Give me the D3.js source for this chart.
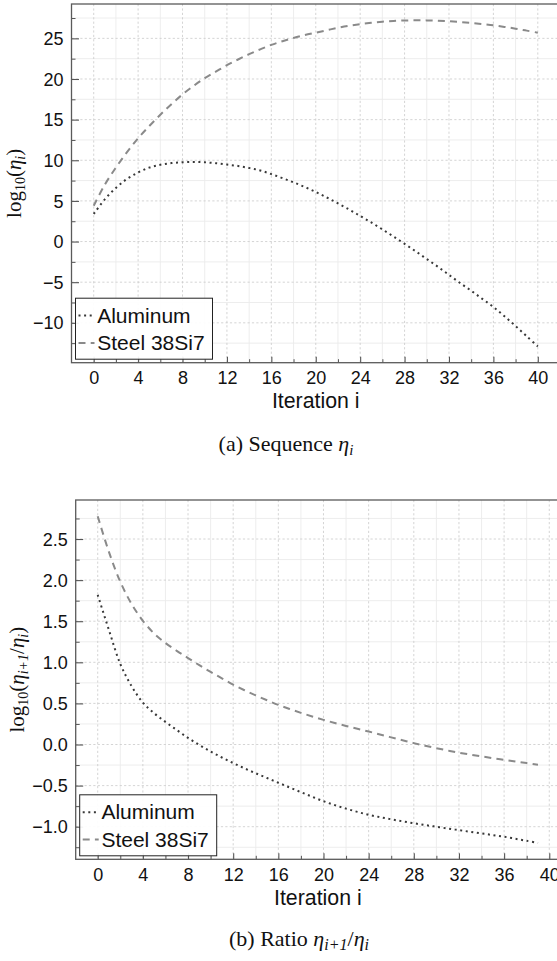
<!DOCTYPE html>
<html>
<head>
<meta charset="utf-8">
<script src="https://cdn.jsdelivr.net/npm/d3@7"></script>
<style>
  html, body { margin: 0; padding: 0; background: #fff; }
  svg { display: block; }
</style>
</head>
<body>
<svg id="chart" width="557" height="961"></svg>
<script>
// ---------------- DATA ----------------
const seriesNames = ["Aluminum", "Steel 38Si7"];

// (a) sequence log10(eta_i), i = 0..40
const etaIterations = [0,1,2,3,4,5,6,7,8,9,10,11,12,13,14,15,16,17,18,19,20,
                       21,22,23,24,25,26,27,28,29,30,31,32,33,34,35,36,37,38,39,40];
const etaAluminum = [3.4, 5.2, 6.6, 7.7, 8.5, 9.1, 9.45, 9.65, 9.76, 9.8, 9.75,
                     9.64, 9.47, 9.3, 9.05, 8.75, 8.3, 7.8, 7.28, 6.72, 6.1,
                     5.42, 4.7, 3.95, 3.15, 2.35, 1.5, 0.62, -0.28, -1.2, -2.15,
                     -3.1, -4.1, -5.1, -6.05, -7.05, -8.05, -9.2, -10.4, -11.65, -12.9];
const etaSteel = [4.4, 7.0, 9.1, 11.0, 12.7, 14.2, 15.6, 16.9, 18.1, 19.15, 20.1,
                  20.9, 21.7, 22.4, 23.05, 23.65, 24.2, 24.65, 25.05, 25.4, 25.7,
                  26.0, 26.3, 26.55, 26.75, 26.92, 27.05, 27.14, 27.2, 27.22, 27.21,
                  27.17, 27.1, 27.01, 26.89, 26.75, 26.6, 26.41, 26.19, 25.95, 25.7];

// (b) ratio log10(eta_{i+1}/eta_i), i = 0..39
const ratioIterations = [0,1,2,3,4,5,6,7,8,9,10,11,12,13,14,15,16,17,18,19,
                         20,21,22,23,24,25,26,27,28,29,30,31,32,33,34,35,36,37,38,39];
const ratioAluminum = [1.82, 1.39, 0.98, 0.71, 0.51, 0.38, 0.275, 0.177, 0.08, -0.005,
                       -0.085, -0.158, -0.226, -0.29, -0.35, -0.408, -0.465, -0.523, -0.58, -0.636,
                       -0.69, -0.737, -0.78, -0.82, -0.855, -0.884, -0.91, -0.935, -0.958, -0.98,
                       -1.001, -1.022, -1.042, -1.062, -1.082, -1.102, -1.122, -1.147, -1.172, -1.198];
const ratioSteel = [2.776, 2.34, 1.98, 1.71, 1.505, 1.35, 1.235, 1.14, 1.052, 0.965,
                    0.883, 0.805, 0.728, 0.66, 0.597, 0.538, 0.482, 0.432, 0.385, 0.341,
                    0.3, 0.262, 0.226, 0.191, 0.158, 0.122, 0.087, 0.052, 0.017, -0.015,
                    -0.045, -0.073, -0.1, -0.123, -0.145, -0.166, -0.186, -0.206, -0.226, -0.246];

// tick labels
const xTickValues = [0, 4, 8, 12, 16, 20, 24, 28, 32, 36, 40];
const xMinorValues = [-2, 2, 6, 10, 14, 18, 22, 26, 30, 34, 38, 42];
const yTicksTop = [-10, -5, 0, 5, 10, 15, 20, 25];
const yMinorTop = [-12.5, -7.5, -2.5, 2.5, 7.5, 12.5, 17.5, 22.5, 27.5];
const yTicksBottom = [-1.0, -0.5, 0.0, 0.5, 1.0, 1.5, 2.0, 2.5];
const yMinorBottom = [-1.25, -0.75, -0.25, 0.25, 0.75, 1.25, 1.75, 2.25, 2.75];

// ---------------- STYLE ----------------
const SANS = "'Liberation Sans', Arial, Helvetica, sans-serif";
const SERIF = "'Liberation Serif', 'Times New Roman', serif";
const styles = [
  { color: "#383838", width: 2.0, dash: "2,3.6" },   // Aluminum: dotted
  { color: "#8a8a8a", width: 2.0, dash: "7,5.2" }    // Steel: dashed
];

const svg = d3.select("#chart");

function withMargin(ext) {
  const m = (ext[1] - ext[0]) * 0.05;
  return [ext[0] - m, ext[1] + m];
}

function drawPanel(cfg) {
  const { left, right, top, bottom } = cfg.box;
  const xs = cfg.xValues;
  const x = d3.scaleLinear().domain(withMargin(d3.extent(xs))).range([left, right]);
  const allY = cfg.series.flat();
  const y = d3.scaleLinear().domain(withMargin(d3.extent(allY))).range([bottom, top]);

  const g = svg.append("g");

  // grid: minor (solid, very light), major (dashed)
  const grid = g.append("g");
  grid.selectAll(".gxm").data(xMinorValues.filter(v => x(v) >= left && x(v) <= right))
    .join("line").attr("x1", d => x(d)).attr("x2", d => x(d))
    .attr("y1", top).attr("y2", bottom)
    .attr("stroke", "#ebebeb").attr("stroke-width", 0.9);
  grid.selectAll(".gym").data(cfg.yMinor.filter(v => y(v) >= top && y(v) <= bottom))
    .join("line").attr("x1", left).attr("x2", right)
    .attr("y1", d => y(d)).attr("y2", d => y(d))
    .attr("stroke", "#ebebeb").attr("stroke-width", 0.9);
  grid.selectAll(".gx").data(xTickValues)
    .join("line").attr("x1", d => x(d)).attr("x2", d => x(d))
    .attr("y1", top).attr("y2", bottom)
    .attr("stroke", "#c9c9c9").attr("stroke-width", 0.8).attr("stroke-dasharray", "2.2,2.2");
  grid.selectAll(".gy").data(cfg.yTicks)
    .join("line").attr("x1", left).attr("x2", right)
    .attr("y1", d => y(d)).attr("y2", d => y(d))
    .attr("stroke", "#c9c9c9").attr("stroke-width", 0.8).attr("stroke-dasharray", "2.2,2.2");

  // data lines
  const line = d3.line().x((d, i) => x(xs[i])).y(d => y(d)).curve(d3.curveCatmullRom.alpha(0.5));
  cfg.series.forEach((vals, k) => {
    g.append("path").datum(vals)
      .attr("d", line)
      .attr("fill", "none")
      .attr("stroke", styles[k].color)
      .attr("stroke-width", styles[k].width)
      .attr("stroke-dasharray", styles[k].dash)
      .attr("stroke-linecap", "butt");
  });

  // axes (ticks pointing inward)
  const minus = s => s.replace("-", "\u2212");
  const xAxis = d3.axisBottom(x).tickValues(xTickValues).tickSizeInner(-6).tickSizeOuter(0)
    .tickPadding(0).tickFormat(d3.format("d"));
  const gx = g.append("g").attr("transform", `translate(0,${bottom})`).call(xAxis);
  gx.select(".domain").remove();
  gx.selectAll(".tick line").attr("stroke", "#555").attr("stroke-width", 1.1);
  gx.selectAll(".tick text").attr("y", 21.8).attr("dy", 0)
    .attr("font-family", SANS).attr("font-size", 18).attr("fill", "#111");
  const xMinorAxis = d3.axisBottom(x).tickValues(xMinorValues.filter(v => x(v) > left && x(v) < right))
    .tickSizeInner(-3.5).tickSizeOuter(0).tickFormat("");
  const gxm = g.append("g").attr("transform", `translate(0,${bottom})`).call(xMinorAxis);
  gxm.select(".domain").remove();
  gxm.selectAll(".tick line").attr("stroke", "#555").attr("stroke-width", 1);

  const yAxis = d3.axisLeft(y).tickValues(cfg.yTicks).tickSizeInner(-7.5).tickSizeOuter(0)
    .tickPadding(0).tickFormat(d => minus(cfg.yFormat(d)));
  const gy = g.append("g").attr("transform", `translate(${left},0)`).call(yAxis);
  gy.select(".domain").remove();
  gy.selectAll(".tick line").attr("stroke", "#555").attr("stroke-width", 1.1);
  gy.selectAll(".tick text").attr("x", -8).attr("dy", "0.34em")
    .attr("font-family", SANS).attr("font-size", 18).attr("fill", "#111");
  const yMinorAxis = d3.axisLeft(y).tickValues(cfg.yMinor.filter(v => y(v) > top && y(v) < bottom))
    .tickSizeInner(-4).tickSizeOuter(0).tickFormat("");
  const gym = g.append("g").attr("transform", `translate(${left},0)`).call(yMinorAxis);
  gym.select(".domain").remove();
  gym.selectAll(".tick line").attr("stroke", "#555").attr("stroke-width", 1);

  // frame
  g.append("rect").attr("x", left).attr("y", top)
    .attr("width", right - left).attr("height", bottom - top)
    .attr("fill", "none").attr("stroke", "#5a5a5a").attr("stroke-width", 1.3);

  // legend
  const lx = left + 4, ly = bottom - 3.5 - 61;
  const lg = g.append("g");
  lg.append("rect").attr("x", lx).attr("y", ly).attr("width", 137).attr("height", 61)
    .attr("fill", "#fff").attr("fill-opacity", 0.92)
    .attr("stroke", "#222").attr("stroke-width", 1);
  seriesNames.forEach((name, k) => {
    const by = ly + 24.4 + k * 27.3;
    lg.append("line").attr("x1", lx + 3).attr("x2", lx + 19)
      .attr("y1", by - 7).attr("y2", by - 7)
      .attr("stroke", styles[k].color).attr("stroke-width", styles[k].width)
      .attr("stroke-dasharray", styles[k].dash);
    lg.append("text").attr("x", lx + 21.7).attr("y", by)
      .attr("font-family", SANS).attr("font-size", 21).attr("fill", "#111").text(name);
  });

  // x label
  g.append("text").attr("x", (left + right) / 2).attr("y", bottom + 45.5)
    .attr("text-anchor", "middle").attr("font-family", SANS).attr("font-size", 21.3)
    .attr("fill", "#111").text("Iteration i");

  // y label
  const yl = g.append("text")
    .attr("transform", `translate(${cfg.yLabelX},${(top + bottom) / 2}) rotate(-90)`)
    .attr("text-anchor", "middle").attr("font-family", SERIF).attr("font-size", 21).attr("fill", "#111");
  cfg.yLabel(yl);

  // caption
  const cap = g.append("text").attr("x", cfg.capX).attr("y", cfg.capY)
    .attr("text-anchor", "middle").attr("font-family", SERIF).attr("font-size", 22).attr("fill", "#111");
  cfg.caption(cap);
}

drawPanel({
  box: { left: 71.5, right: 560, top: 4, bottom: 362.7 },
  xValues: etaIterations,
  series: [etaAluminum, etaSteel],
  yTicks: yTicksTop,
  yMinor: yMinorTop,
  yFormat: d3.format("d"),
  yLabelX: 21,
  yLabel: t => {
    t.append("tspan").text("log");
    t.append("tspan").attr("font-size", 14).attr("dy", 4).text("10");
    t.append("tspan").attr("dy", -4).text("(");
    t.append("tspan").attr("font-style", "italic").text("η");
    t.append("tspan").attr("font-style", "italic").attr("font-size", 14).attr("dy", 4).text("i");
    t.append("tspan").attr("dy", -4).text(")");
  },
  capX: 286, capY: 451,
  caption: t => {
    t.append("tspan").text("(a) Sequence ");
    t.append("tspan").attr("font-style", "italic").text("η");
    t.append("tspan").attr("font-style", "italic").attr("font-size", 15).attr("dy", 4).text("i");
  }
});

drawPanel({
  box: { left: 75.7, right: 560, top: 500, bottom: 859.3 },
  xValues: ratioIterations,
  series: [ratioAluminum, ratioSteel],
  yTicks: yTicksBottom,
  yMinor: yMinorBottom,
  yFormat: d3.format(".1f"),
  yLabelX: 24,
  yLabel: t => {
    t.append("tspan").text("log");
    t.append("tspan").attr("font-size", 14).attr("dy", 4).text("10");
    t.append("tspan").attr("dy", -4).text("(");
    t.append("tspan").attr("font-style", "italic").text("η");
    t.append("tspan").attr("font-style", "italic").attr("font-size", 14).attr("dy", 4).text("i+1");
    t.append("tspan").attr("dy", -4).text("/");
    t.append("tspan").attr("font-style", "italic").text("η");
    t.append("tspan").attr("font-style", "italic").attr("font-size", 14).attr("dy", 4).text("i");
    t.append("tspan").attr("dy", -4).text(")");
  },
  capX: 299, capY: 946,
  caption: t => {
    t.append("tspan").text("(b) Ratio ");
    t.append("tspan").attr("font-style", "italic").text("η");
    t.append("tspan").attr("font-style", "italic").attr("font-size", 16).attr("dy", 4).text("i+1");
    t.append("tspan").attr("dy", -4).text("/");
    t.append("tspan").attr("font-style", "italic").text("η");
    t.append("tspan").attr("font-style", "italic").attr("font-size", 16).attr("dy", 4).text("i");
  }
});
</script>
</body>
</html>
